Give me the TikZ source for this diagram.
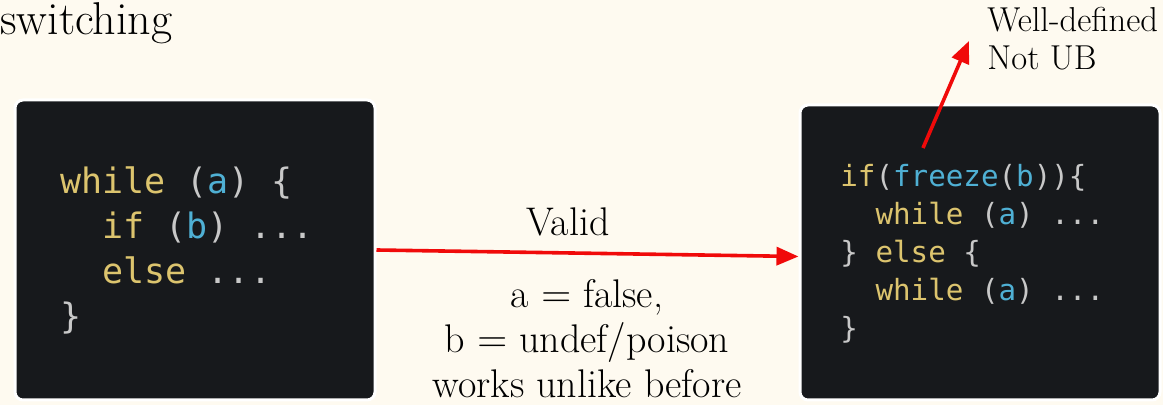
\documentclass[tikz,border=0pt]{standalone}
\usepackage{fontspec}
\setmonofont{DejaVu Sans Mono}
\usetikzlibrary{arrows.meta}

\definecolor{paper}{HTML}{FEFAF0}
\definecolor{codebg}{HTML}{17191C}
\definecolor{kwyellow}{HTML}{DCC46E}
\definecolor{varblue}{HTML}{4FB0D4}
\definecolor{plaingray}{HTML}{C8C8C8}
\definecolor{arrowred}{HTML}{F00A0A}

\newcommand\kw[1]{\textcolor{kwyellow}{#1}}
\newcommand\vr[1]{\textcolor{varblue}{#1}}
\newcommand\ind{\hphantom{xx}}

\begin{document}
\begin{tikzpicture}[x=0.5pt,y=-0.5pt,
    codebox/.style={draw=white, line width=1.5pt, fill=codebg, rounded corners=4pt,
      minimum width=180pt, inner sep=0pt},
    codetext/.style={anchor=west, align=left, inner sep=0pt, text=plaingray},
    label/.style={font=\fontsize{20}{22.5}\selectfont, inner sep=0pt},
    redarrow/.style={-{Triangle[length=11pt,width=9pt]}, draw=arrowred, line width=1.8pt}]
    \fill[paper] (0,0) rectangle (1163,405);
    \useasboundingbox (0,0) rectangle (1163,405);

    \node[anchor=base west, inner sep=0pt, font=\fontsize{23}{28}\selectfont] (title) at (0,35) {switching};

    \node[codebox, minimum height=150pt] (leftbox) at (195,250) {};
    \node[codebox, minimum height=147.5pt] (rightbox) at (980,252.5) {};

    \node[codetext, font=\ttfamily\fontsize{17.5}{22.5}\selectfont] (leftcode) at (60,250) {%
      \kw{while} (\vr{a}) \{\\
      \ind\kw{if} (\vr{b}) ...\\
      \ind\kw{else} ...\\
      \}};
    \node[codetext, font=\ttfamily\fontsize{14.6}{19}\selectfont] (rightcode) at (840,254) {%
      \kw{if}(\vr{freeze}(\vr{b}))\{\\
      \ind\kw{while} (\vr{a}) ...\\
      \} \kw{else} \{\\
      \ind\kw{while} (\vr{a}) ...\\
      \}};

    \node[label] (valid) at (568,222) {Valid};
    \node[label, align=center] (cond) at (587,339) {a $=$ false,\\b $=$ undef/poison\\works unlike before};
    \node[label, anchor=west, align=left, font=\fontsize{17.3}{19}\selectfont] (ubnote) at (987,39) {Well-defined\\Not UB};

    \coordinate (freezept) at (923,148);

    \draw[redarrow] (leftbox.east) -- ([yshift=-2pt]rightbox.west);
    \draw[redarrow] (freezept) -- ([xshift=-9pt,yshift=-1pt]ubnote.west);
\end{tikzpicture}
\end{document}
